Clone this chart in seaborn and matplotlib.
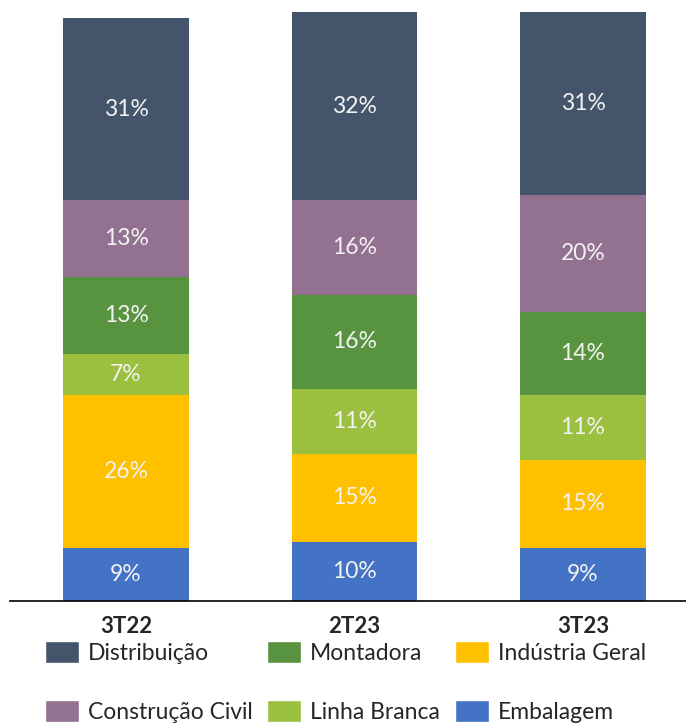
import numpy as np
import pandas as pd
import seaborn as sns
import matplotlib
matplotlib.use('Agg')
import matplotlib.pyplot as plt
from matplotlib.patches import Patch

# data (bottom to top)
periods = ['3T22', '2T23', '3T23']
segments = ['Embalagem', 'Indústria Geral', 'Linha Branca', 'Montadora', 'Construção Civil', 'Distribuição']
embalagem = [9, 10, 9]
industria_geral = [26, 15, 15]
linha_branca = [7, 11, 11]
montadora = [13, 16, 14]
construcao_civil = [13, 16, 20]
distribuicao = [31, 32, 31]

colors = {'Embalagem': '#4472C4', 'Indústria Geral': '#FFC000', 'Linha Branca': '#9BBF3E',
          'Montadora': '#58943F', 'Construção Civil': '#937190', 'Distribuição': '#44546A'}

df = pd.DataFrame({'period': periods, 'Embalagem': embalagem, 'Indústria Geral': industria_geral,
                   'Linha Branca': linha_branca, 'Montadora': montadora,
                   'Construção Civil': construcao_civil, 'Distribuição': distribuicao})

# cumulative tops, so each bar can be drawn over the previous one
cum = df[segments].cumsum(axis=1)

sns.set_style('white')
plt.rcParams['font.family'] = ['Lato', 'DejaVu Sans']

fig = plt.figure(figsize=(6.86, 7.27), dpi=100)
ax = fig.add_axes([10/686, 1 - 601/727, 676/686, 589/727])

for seg in reversed(segments):
    sns.barplot(x=df['period'], y=cum[seg], color=colors[seg], width=0.55,
                saturation=1, edgecolor='none', linewidth=0, ax=ax)

# percent labels in the middle of each segment
for i in range(len(periods)):
    for seg in segments:
        v = df.loc[i, seg]
        mid = cum.loc[i, seg] - v / 2
        ax.text(i, mid, f'{v}%', ha='center', va='center', color='#F2F2F2', fontsize=16.5)

ax.set_xlim(-0.508, 2.451)
ax.set_ylim(0, 100)
ax.set_xlabel('')
ax.set_ylabel('')
ax.set_yticks([])
ax.tick_params(axis='x', length=0, pad=11)
for lbl in ax.get_xticklabels():
    lbl.set_fontweight('bold')
    lbl.set_fontsize(16)
for s in ['top', 'right', 'left']:
    ax.spines[s].set_visible(False)
ax.spines['bottom'].set_color('black')
ax.spines['bottom'].set_linewidth(1.2)

# legend: one small legend per column so the columns sit where the reference has them
leg_cols = [['Distribuição', 'Construção Civil'],
            ['Montadora', 'Linha Branca'],
            ['Indústria Geral', 'Embalagem']]
col_x = [45, 267, 455]
for names, x in zip(leg_cols, col_x):
    handles = [Patch(facecolor=colors[s], label=s) for s in names]
    fig.legend(handles=handles, loc='upper left', bbox_to_anchor=(x/686, 1 - 641/727),
               frameon=False, fontsize=16.5, handlelength=1.48, handleheight=1.09,
               handletextpad=0.4, labelspacing=1.6, borderpad=0, borderaxespad=0)

plt.savefig('out.png', dpi=100)
